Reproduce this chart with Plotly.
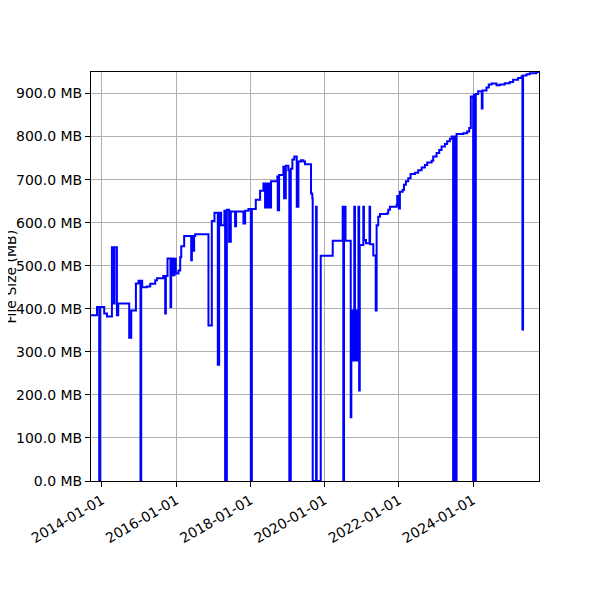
import plotly.graph_objects as go

# file size history
dates = [
    "2013-09-15", "2013-11-13", "2013-12-05", "2013-12-12", "2014-01-23",
    "2014-02-19", "2014-04-09", "2014-04-29", "2014-05-05", "2014-05-28",
    "2014-06-10", "2014-09-26", "2014-10-16", "2014-12-01", "2014-12-27",
    "2015-01-15", "2015-01-22", "2015-02-01", "2015-03-19", "2015-04-21",
    "2015-06-09", "2015-06-26", "2015-08-27", "2015-09-15", "2015-09-22",
    "2015-10-08", "2015-11-06", "2015-11-13", "2015-11-30", "2015-12-16",
    "2015-12-29", "2016-01-24", "2016-02-10", "2016-02-20", "2016-03-20",
    "2016-05-28", "2016-06-04", "2016-06-19", "2016-06-26", "2016-07-06",
    "2016-11-14", "2016-12-17", "2017-01-12", "2017-02-14", "2017-02-27",
    "2017-03-19", "2017-04-20", "2017-04-27", "2017-05-14", "2017-06-05",
    "2017-06-22", "2017-08-03", "2017-08-13", "2017-10-24", "2017-11-10",
    "2017-12-12", "2018-01-05", "2018-01-15", "2018-02-23", "2018-04-06",
    "2018-05-09", "2018-05-25", "2018-06-01", "2018-06-11", "2018-06-17",
    "2018-06-27", "2018-07-04", "2018-07-13", "2018-07-23", "2018-09-23",
    "2018-09-27", "2018-10-10", "2018-11-21", "2018-11-28", "2018-12-15",
    "2019-01-09", "2019-01-19", "2019-02-02", "2019-02-18", "2019-03-09",
    "2019-04-02", "2019-04-18", "2019-05-14", "2019-06-06", "2019-06-22",
    "2019-08-20", "2019-09-02", "2019-09-06", "2019-10-09", "2019-10-15",
    "2019-11-24", "2020-03-21", "2020-06-27", "2020-07-03", "2020-07-10",
    "2020-07-25", "2020-09-14", "2020-09-20", "2020-09-26", "2020-10-03",
    "2020-10-09", "2020-10-19", "2020-10-26", "2020-11-02", "2020-11-08",
    "2020-11-15", "2020-11-22", "2020-11-29", "2020-12-06", "2020-12-12",
    "2021-01-16", "2021-01-22", "2021-02-11", "2021-03-18", "2021-03-24",
    "2021-04-24", "2021-05-18", "2021-05-27", "2021-06-12", "2021-06-29",
    "2021-09-08", "2021-09-18", "2021-10-05", "2021-12-10", "2021-12-16",
    "2021-12-26", "2022-01-01", "2022-01-11", "2022-02-07", "2022-02-20",
    "2022-03-11", "2022-04-03", "2022-04-26", "2022-06-08", "2022-07-10",
    "2022-08-13", "2022-09-14", "2022-10-07", "2022-11-19", "2022-12-05",
    "2023-01-07", "2023-02-02", "2023-02-25", "2023-03-30", "2023-04-21",
    "2023-05-18", "2023-06-04", "2023-06-19", "2023-06-26", "2023-07-11",
    "2023-07-23", "2023-09-26", "2023-11-04", "2023-11-24", "2023-12-10",
    "2024-01-02", "2024-01-09", "2024-01-21", "2024-01-28", "2024-02-20",
    "2024-03-27", "2024-04-03", "2024-05-12", "2024-06-04", "2024-07-01",
    "2024-08-19", "2024-09-20", "2024-11-08", "2024-12-28", "2025-01-29",
    "2025-03-19", "2025-04-22", "2025-05-01", "2025-05-07", "2025-06-10",
    "2025-07-12", "2025-09-16", "2025-10-11",
]
sizes_mb = [
    385, 404, 0, 404, 389,
    382, 543, 412, 543, 385,
    412, 333, 396, 459, 465,
    0, 465, 450, 452, 458,
    466, 471, 476, 389, 476,
    517, 404, 517, 478, 516,
    482, 489, 520, 545, 569,
    513, 569, 535, 569, 573,
    361, 604, 623, 270, 623,
    594, 628, 0, 630, 556,
    626, 592, 626, 598, 628,
    632, 0, 632, 653, 674,
    691, 635, 691, 635, 691,
    635, 691, 635, 696, 707,
    629, 711, 730, 657, 732,
    722, 0, 725, 747, 754,
    637, 742, 745, 742, 736,
    668, 657, 0, 637, 0,
    523, 558, 637, 0, 637,
    558, 148, 396, 280, 396,
    280, 637, 280, 396, 280,
    396, 280, 637, 210, 548,
    637, 560, 552, 637, 550,
    524, 396, 594, 614, 620,
    622, 630, 637, 641, 662,
    641, 633, 672, 676, 688,
    696, 703, 713, 716, 722,
    728, 734, 740, 744, 754,
    762, 769, 777, 783, 789,
    795, 800, 0, 800, 0,
    806, 808, 812, 820, 893,
    0, 897, 0, 899, 905,
    865, 907, 914, 921, 923,
    919, 921, 924, 927, 932,
    936, 940, 352, 942, 945,
    947, 950, 950,
]

xtick_dates = ["2014-01-01", "2016-01-01", "2018-01-01", "2020-01-01",
               "2022-01-01", "2024-01-01"]
ytick_vals = [0, 100, 200, 300, 400, 500, 600, 700, 800, 900]
ytick_text = ["%.1f MB" % v for v in ytick_vals]

font = dict(family="DejaVu Sans", size=14, color="black")

fig = go.Figure()
fig.add_trace(go.Scatter(x=dates, y=sizes_mb, mode="lines",
                         line=dict(color="#0000ff", width=2, shape="hv"),
                         showlegend=False))

axis_style = dict(showline=True, mirror=True, linecolor="black", linewidth=1,
                  ticks="outside", ticklen=5, tickwidth=1, tickcolor="black",
                  showgrid=True, gridcolor="#b0b0b0", gridwidth=1.1,
                  zeroline=False, tickfont=font, automargin=False)

fig.update_xaxes(type="date", range=["2013-09-15", "2025-10-11"],
                 tickvals=xtick_dates, ticktext=xtick_dates, tickangle=-30,
                 **axis_style)
fig.update_yaxes(range=[0, 950], tickvals=ytick_vals, ticktext=ytick_text,
                 **axis_style)

# page body adds 8px, so margins are trimmed to land the axes where the original has them
ml, mr, mt, mb = 83, 69, 64, 127
plot_w = 600 - ml - mr

# y label sits partly outside the figure, like the original
fig.add_annotation(text="File Size (MB)", xref="paper", yref="paper",
                   x=-(ml - 2) / plot_w, y=0.5, xanchor="center", yanchor="middle",
                   textangle=-90, showarrow=False, font=font)

fig.update_layout(width=600, height=600, plot_bgcolor="white",
                  paper_bgcolor="white", font=font,
                  margin=dict(l=ml, r=mr, t=mt, b=mb))

fig.write_html("out.html")
